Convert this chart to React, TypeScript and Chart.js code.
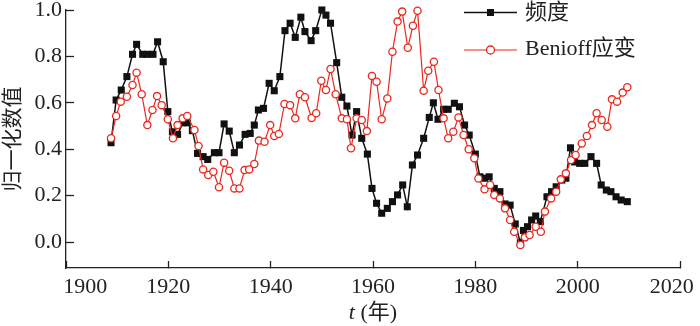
import React, { useEffect, useRef } from 'react';
import { Chart, registerables } from 'chart.js';

Chart.register(...registerables);

// ---- data ----
const seriesNames = ['频度', 'Benioff应变'];
const yTitle = '归一化数值';
const xTitleVar = 't';
const xTitleUnit = ' (年)';

const xTicks = [1900, 1920, 1940, 1960, 1980, 2000, 2020];
const yTicks = [0, 0.2, 0.4, 0.6, 0.8, 1.0];

const freqYears = [
  1908.8, 1909.8, 1910.8, 1911.9, 1913.0, 1913.8, 1915.0, 1915.9, 1917.0, 1917.9,
  1919.0, 1919.9, 1920.8, 1921.8, 1922.9, 1923.7, 1924.7, 1925.7, 1926.8, 1927.7,
  1929.0, 1929.9, 1930.9, 1931.9, 1932.9, 1933.9, 1935.0, 1936.0, 1936.8, 1937.6,
  1938.6, 1939.7, 1940.7, 1941.8, 1942.8, 1943.8, 1944.8, 1945.9, 1946.7, 1947.9,
  1948.8, 1950.0, 1950.8, 1951.7, 1952.9, 1953.9, 1954.9, 1955.9, 1956.8, 1957.8,
  1958.9, 1959.8, 1960.7, 1961.7, 1962.8, 1963.8, 1964.8, 1965.8, 1966.7, 1967.7,
  1968.7, 1969.9, 1971.0, 1971.8, 1972.7, 1973.8, 1974.7, 1975.9, 1976.9, 1977.9,
  1978.8, 1980.0, 1980.9, 1981.8, 1982.7, 1983.7, 1984.8, 1985.8, 1986.8, 1987.8,
  1988.8, 1989.4, 1990.2, 1991.0, 1991.8, 1992.7, 1994.0, 1994.9, 1995.8, 1996.9,
  1997.7, 1998.6, 1999.4, 2000.4, 2001.4, 2002.6, 2003.7, 2004.6, 2005.6, 2006.5,
  2007.5, 2008.5, 2009.7,
];
const freqValues = [
  0.428, 0.612, 0.655, 0.713, 0.809, 0.852, 0.809, 0.809, 0.809, 0.863,
  0.777, 0.562, 0.475, 0.464, 0.514, 0.514, 0.48, 0.382, 0.368, 0.356,
  0.385, 0.385, 0.509, 0.478, 0.385, 0.418, 0.464, 0.468, 0.504, 0.569,
  0.576, 0.684, 0.652, 0.713, 0.911, 0.943, 0.882, 0.969, 0.907, 0.868,
  0.911, 1.0, 0.978, 0.943, 0.773, 0.624, 0.586, 0.461, 0.562, 0.447,
  0.379, 0.231, 0.167, 0.124, 0.145, 0.174, 0.203, 0.246, 0.152, 0.332,
  0.375, 0.447, 0.537, 0.6, 0.529, 0.572, 0.572, 0.598, 0.583, 0.504,
  0.461, 0.379, 0.281, 0.275, 0.281, 0.231, 0.217, 0.164, 0.159, 0.078,
  -0.003, 0.05, 0.066, 0.095, 0.112, 0.088, 0.195, 0.217, 0.238, 0.267,
  0.275, 0.406, 0.345, 0.339, 0.339, 0.368, 0.339, 0.246, 0.224, 0.217,
  0.195, 0.181, 0.174,
];

const benYears = [
  1908.8, 1909.8, 1910.7, 1911.9, 1913.0, 1913.8, 1914.8, 1915.9, 1916.9, 1917.8,
  1918.7, 1919.9, 1920.9, 1921.8, 1922.8, 1923.7, 1925.1, 1925.9, 1926.8, 1927.8,
  1928.8, 1929.9, 1930.9, 1931.9, 1932.9, 1933.9, 1934.9, 1935.8, 1936.8, 1937.7,
  1938.8, 1939.9, 1940.7, 1941.6, 1942.7, 1943.8, 1944.8, 1945.7, 1946.7, 1948.0,
  1948.9, 1949.9, 1950.8, 1951.7, 1952.7, 1953.9, 1954.9, 1955.7, 1956.8, 1957.8,
  1958.8, 1959.8, 1960.7, 1961.7, 1962.8, 1963.8, 1964.8, 1965.7, 1966.8, 1967.8,
  1968.7, 1969.9, 1970.8, 1971.9, 1972.8, 1973.8, 1974.7, 1975.7, 1976.7, 1977.7,
  1978.7, 1979.8, 1980.6, 1981.8, 1982.9, 1983.7, 1984.8, 1985.8, 1986.8, 1987.6,
  1988.8, 1989.7, 1990.6, 1991.8, 1992.8, 1993.6, 1994.8, 1995.8, 1996.7, 1997.7,
  1998.7, 1999.6, 2000.8, 2001.8, 2002.8, 2003.7, 2004.7, 2005.8, 2006.7, 2007.7,
  2008.8, 2009.7,
];
const benValues = [
  0.447, 0.543, 0.605, 0.626, 0.677, 0.73, 0.637, 0.504, 0.569, 0.629,
  0.59, 0.529, 0.447, 0.504, 0.533, 0.543, 0.483, 0.414, 0.313, 0.289,
  0.303, 0.236, 0.342, 0.307, 0.231, 0.231, 0.31, 0.313, 0.336, 0.437,
  0.432, 0.504, 0.457, 0.466, 0.595, 0.59, 0.533, 0.637, 0.624, 0.535,
  0.555, 0.695, 0.655, 0.746, 0.637, 0.533, 0.529, 0.404, 0.533, 0.526,
  0.478, 0.716, 0.691, 0.529, 0.619, 0.82, 0.95, 0.993, 0.837, 0.932,
  0.997, 0.652, 0.738, 0.777, 0.655, 0.533, 0.447, 0.475, 0.537, 0.461,
  0.4, 0.361, 0.274, 0.227, 0.246, 0.203, 0.188, 0.145, 0.095, 0.044,
  -0.013, 0.02, 0.03, 0.066, 0.044, 0.131, 0.188, 0.217, 0.27, 0.296,
  0.353, 0.375, 0.425, 0.457, 0.504, 0.555, 0.526, 0.497, 0.615, 0.605,
  0.644, 0.667,
];

const BLACK = '#111111';
const RED = '#e8281e';
const SERIF = '"Liberation Serif", "Noto Sans CJK SC", serif';

const overlayPlugin = {
  id: 'overlay',
  afterDraw(chart: any) {
    const { ctx, chartArea } = chart;
    ctx.save();
    // legend
    const lx0 = chartArea.right - 216;
    const lx1 = chartArea.right - 163;
    const mx = (lx0 + lx1) / 2;
    const tx = chartArea.right - 155;
    const rows = [chartArea.top + 2.5, chartArea.top + 40];
    ctx.font = '22px ' + SERIF;
    ctx.textBaseline = 'middle';
    ctx.textAlign = 'left';
    // row 1: black squares
    ctx.strokeStyle = BLACK;
    ctx.lineWidth = 1.5;
    ctx.beginPath();
    ctx.moveTo(lx0, rows[0]);
    ctx.lineTo(lx1, rows[0]);
    ctx.stroke();
    ctx.fillStyle = BLACK;
    ctx.fillRect(mx - 3.5, rows[0] - 3.5, 7, 7);
    ctx.fillStyle = '#222';
    ctx.fillText(seriesNames[0], tx, rows[0] + 1);
    // row 2: red circles
    ctx.strokeStyle = RED;
    ctx.lineWidth = 1.2;
    ctx.beginPath();
    ctx.moveTo(lx0, rows[1]);
    ctx.lineTo(lx1, rows[1]);
    ctx.stroke();
    ctx.beginPath();
    ctx.fillStyle = '#fff';
    ctx.lineWidth = 1.3;
    ctx.arc(mx, rows[1], 4, 0, Math.PI * 2);
    ctx.fill();
    ctx.stroke();
    ctx.fillStyle = '#222';
    ctx.fillText(seriesNames[1], tx, rows[1] - 1);

    // x-axis title: italic t + (年)
    const cx = (chartArea.left + chartArea.right) / 2;
    const ty = 313;
    ctx.font = 'italic 22px ' + SERIF;
    const w1 = ctx.measureText(xTitleVar).width;
    ctx.font = '22px ' + SERIF;
    const w2 = ctx.measureText(xTitleUnit).width;
    const sx = cx - (w1 + w2) / 2;
    ctx.fillStyle = '#222';
    ctx.font = 'italic 22px ' + SERIF;
    ctx.fillText(xTitleVar, sx, ty);
    ctx.font = '22px ' + SERIF;
    ctx.fillText(xTitleUnit, sx + w1, ty);
    ctx.restore();
  },
};

export default function App() {
  const ref = useRef<HTMLCanvasElement | null>(null);

  useEffect(() => {
    document.body.style.margin = '0';
    const canvas = ref.current;
    if (!canvas) return;
    const chart = new Chart(canvas, {
      type: 'line',
      data: {
        datasets: [
          {
            label: seriesNames[0],
            data: freqYears.map((x, i) => ({ x, y: freqValues[i] })),
            borderColor: BLACK,
            backgroundColor: BLACK,
            borderWidth: 1.5,
            pointStyle: 'rect',
            pointRadius: 5,
            pointBorderWidth: 0,
            pointBackgroundColor: BLACK,
            tension: 0,
            clip: false,
            order: 2,
          },
          {
            label: seriesNames[1],
            data: benYears.map((x, i) => ({ x, y: benValues[i] })),
            borderColor: RED,
            backgroundColor: '#ffffff',
            borderWidth: 1.2,
            pointStyle: 'circle',
            pointRadius: 3.6,
            pointBorderWidth: 1.3,
            pointBorderColor: RED,
            pointBackgroundColor: '#ffffff',
            tension: 0,
            clip: false,
            order: 1,
          },
        ],
      },
      options: {
        animation: false,
        responsive: false,
        events: [],
        layout: { padding: { left: 0, right: 20, top: 10, bottom: 0 } },
        plugins: {
          legend: { display: false },
          tooltip: { enabled: false },
          title: { display: false },
        },
        scales: {
          x: {
            type: 'linear',
            min: 1900,
            max: 2020,
            afterBuildTicks: (axis: any) => {
              axis.ticks = xTicks.map((v) => ({ value: v }));
            },
            afterFit: (axis: any) => {
              axis.height = 58;
              axis.paddingLeft = 0;
              axis.paddingRight = 0;
            },
            border: { display: true, color: '#222', width: 1.3 },
            grid: {
              drawOnChartArea: false,
              drawTicks: true,
              tickLength: -7,
              tickColor: '#222',
              tickWidth: 1.3,
            },
            ticks: {
              autoSkip: false,
              maxRotation: 0,
              minRotation: 0,
              padding: 13,
              color: '#222',
              font: { family: SERIF, size: 22 },
              callback: (v: any) => {
                if (v === 1900) return '       1900';
                if (v === 2020) return '2020   ';
                return String(v);
              },
            },
            title: { display: false },
          },
          y: {
            type: 'linear',
            min: -0.112,
            max: 1.0,
            afterBuildTicks: (axis: any) => {
              axis.ticks = yTicks.map((v) => ({ value: v }));
            },
            afterFit: (axis: any) => {
              axis.width = 66;
              axis.paddingTop = 0;
              axis.paddingBottom = 0;
            },
            border: { display: true, color: '#222', width: 1.3 },
            grid: {
              drawOnChartArea: false,
              drawTicks: true,
              tickLength: -8,
              tickColor: '#222',
              tickWidth: 1.3,
            },
            ticks: {
              padding: 12,
              color: '#222',
              font: { family: SERIF, size: 22 },
              callback: (v: any) => Number(v).toFixed(1),
            },
            title: {
              display: true,
              text: yTitle,
              color: '#222',
              font: { family: '"Noto Sans CJK SC", sans-serif', size: 21, lineHeight: 1 },
              padding: { top: 1, bottom: 0 },
            },
          },
        },
      },
      plugins: [overlayPlugin],
    } as any);
    return () => chart.destroy();
  }, []);

  return (
    <div style={{ width: 700, height: 326 }}>
      <canvas ref={ref} width={700} height={326} style={{ display: 'block' }} />
    </div>
  );
}
